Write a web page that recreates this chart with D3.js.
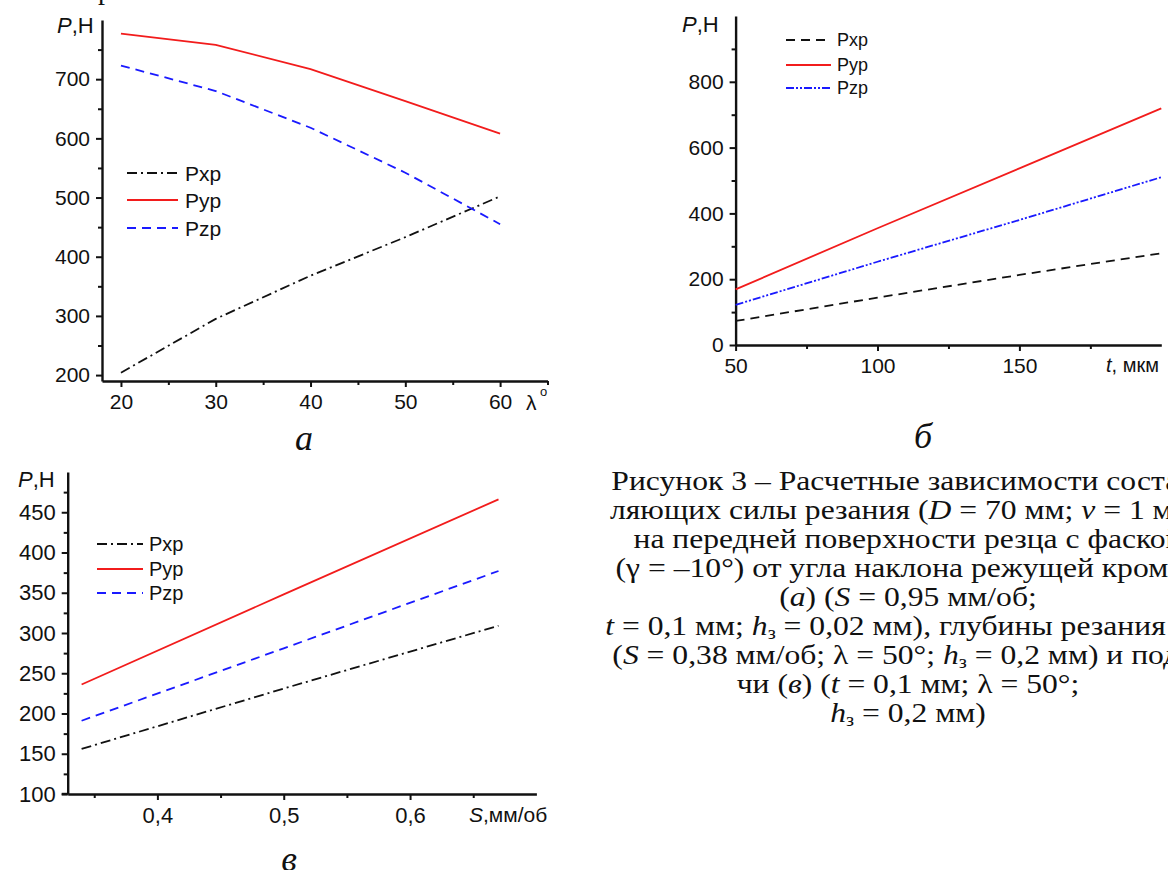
<!DOCTYPE html>
<html>
<head>
<meta charset="utf-8">
<script src="https://cdn.jsdelivr.net/npm/d3@7"></script>
<style>
  body { margin: 0; background: #fff; }
  svg { display: block; }
  text { font-family: "Liberation Sans", Arial, sans-serif; fill: #111; }
  .serif { font-family: "Liberation Serif", "Times New Roman", serif; }
</style>
</head>
<body>
<svg width="1168" height="870"></svg>
<script>
// panel а: force vs inclination angle λ
const lambdaVals = [20, 30, 40, 50, 60]
const pxA = [204, 295, 368, 433, 502]
const pyA = [777, 758, 717, 663, 608]
const pzA = [723, 680, 618, 542, 455]
const xTicksA = [20, 30, 40, 50, 60]
const xMinorA = [25, 35, 45, 55, 65]
const yTicksA = [200, 300, 400, 500, 600, 700]
const yMinorA = [250, 350, 450, 550, 650, 750]

// panel б: force vs depth t
const depthVals = [50, 100, 150, 200]
const pxB = [73, 144, 213, 279]
const pyB = [169, 355, 537, 719]
const pzB = [122, 253, 380, 510]
const xTicksB = [50, 100, 150]
const xMinorB = [75, 125, 175]
const yTicksB = [0, 200, 400, 600, 800]
const yMinorB = [100, 300, 500, 700, 900]

// panel в: force vs feed S
const feedVals = [0.34, 0.5, 0.67]
const pxC = [156, 231, 309]
const pyC = [236, 348, 466]
const pzC = [191, 281, 377]
const xTicksC = [0.4, 0.5, 0.6]
const xMinorC = [0.35, 0.45, 0.55, 0.65]
const yTicksC = [100, 150, 200, 250, 300, 350, 400, 450]
const yMinorC = [125, 175, 225, 275, 325, 375, 425, 475]

const seriesNames = ['Pxp', 'Pyp', 'Pzp']

const svg = d3.select('svg')

function panel(o) {
  const g = svg.append('g')
  const x = d3.scaleLinear().domain(o.xDomain).range(o.xRange)
  const y = d3.scaleLinear().domain(o.yDomain).range(o.yRange)
  const x0 = o.xRange[0], yb = o.yRange[0]

  // minor ticks
  g.append('g').attr('transform', `translate(0,${yb})`)
    .call(d3.axisBottom(x).tickValues(o.xMinor).tickSize(4).tickFormat(''))
    .call(a => a.select('.domain').remove())
  g.append('g').attr('transform', `translate(${x0},0)`)
    .call(d3.axisLeft(y).tickValues(o.yMinor).tickSize(4).tickFormat(''))
    .call(a => a.select('.domain').remove())

  // major axes
  const xa = g.append('g').attr('transform', `translate(0,${yb})`)
    .call(d3.axisBottom(x).tickValues(o.xTicks).tickSize(6).tickSizeOuter(0).tickPadding(7).tickFormat(o.xFmt))
  const ya = g.append('g').attr('transform', `translate(${x0},0)`)
    .call(d3.axisLeft(y).tickValues(o.yTicks).tickSize(6).tickSizeOuter(0).tickPadding(6))
  ;[xa, ya].forEach(a => {
    a.selectAll('text').style('font-size', o.tickFont + 'px').attr('fill', '#111')
    a.attr('font-family', null)
  })
  g.selectAll('.domain').attr('stroke', '#111').attr('stroke-width', 2.4)
  g.selectAll('.tick line').attr('stroke', '#111').attr('stroke-width', 2)
  if (o.xExtend) {
    g.append('line').attr('x1', x0 - o.xExtend).attr('x2', x0)
      .attr('y1', yb).attr('y2', yb).attr('stroke', '#111').attr('stroke-width', 2.4)
  }

  // series
  const line = d3.line().x(d => x(d[0])).y(d => y(d[1]))
  o.series.forEach(s => {
    g.append('path')
      .datum(o.xVals.map((v, i) => [v, s.values[i]]))
      .attr('d', line)
      .attr('fill', 'none')
      .attr('stroke', s.color)
      .attr('stroke-width', 1.8)
      .attr('stroke-dasharray', s.dash)
  })

  // legend
  const lg = g.append('g')
  o.series.forEach((s, i) => {
    const ly = o.legend.ys[i]
    lg.append('line')
      .attr('x1', o.legend.x).attr('x2', o.legend.x + o.legend.len)
      .attr('y1', ly).attr('y2', ly)
      .attr('stroke', s.color).attr('stroke-width', 1.8)
      .attr('stroke-dasharray', s.dash)
    lg.append('text')
      .attr('x', o.legend.tx).attr('y', ly)
      .attr('dy', '0.36em')
      .style('font-size', o.legend.font + 'px')
      .text(seriesNames[i])
  })

  // y label P,H
  const yl = g.append('text').attr('x', o.yLabel[0]).attr('y', o.yLabel[1])
    .style('font-size', o.labelFont + 'px')
  yl.append('tspan').attr('font-style', 'italic').text('P')
  yl.append('tspan').text(',H')

  return { g, x, y }
}

const dashDot = '10,4,2,4'
const dashed = '9,6'

const a = panel({
  xDomain: [18, 65], xRange: [102, 547.5],
  yDomain: [190, 800], yRange: [381, 20],
  xTicks: xTicksA, xMinor: xMinorA, yTicks: yTicksA, yMinor: yMinorA,
  xFmt: d3.format('d'), tickFont: 21, labelFont: 22,
  xVals: lambdaVals,
  series: [
    { values: pxA, color: '#111', dash: dashDot },
    { values: pyA, color: '#f21c1c', dash: null },
    { values: pzA, color: '#1a1aff', dash: dashed }
  ],
  legend: { x: 127, len: 51, tx: 185, ys: [173, 200, 228], font: 21 },
  yLabel: [57, 33]
})
a.g.append('text').attr('x', 526).attr('y', 410).style('font-size', '21px').text('λ')
a.g.append('text').attr('x', 540).attr('y', 396).style('font-size', '13px').text('o')

const b = panel({
  xDomain: [50, 200], xRange: [735.6, 1161.3],
  yDomain: [0, 1000], yRange: [345, 16],
  xTicks: xTicksB, xMinor: xMinorB, yTicks: yTicksB, yMinor: yMinorB,
  xFmt: d3.format('d'), tickFont: 21, labelFont: 22,
  xVals: depthVals,
  series: [
    { values: pxB, color: '#111', dash: dashed },
    { values: pyB, color: '#f21c1c', dash: null },
    { values: pzB, color: '#1a1aff', dash: '8,2,2,2,2,2' }
  ],
  legend: { x: 786, len: 45, tx: 837, ys: [40, 65, 88], font: 18 },
  yLabel: [682, 32]
})
const tl = b.g.append('text').attr('x', 1106).attr('y', 372).style('font-size', '20px')
tl.append('tspan').attr('font-style', 'italic').text('t')
tl.append('tspan').text(', мкм')

const c = panel({
  xDomain: [0.329, 0.70], xRange: [67.7, 536.4],
  yDomain: [100, 500], yRange: [794, 472],
  xTicks: xTicksC, xMinor: xMinorC, yTicks: yTicksC, yMinor: yMinorC,
  xFmt: d => d3.format('.1f')(d).replace('.', ','), tickFont: 22, labelFont: 22,
  xVals: feedVals, xExtend: 6,
  series: [
    { values: pxC, color: '#111', dash: dashDot },
    { values: pyC, color: '#f21c1c', dash: null },
    { values: pzC, color: '#1a1aff', dash: dashed }
  ],
  legend: { x: 97, len: 46, tx: 149, ys: [544, 569, 593], font: 20 },
  yLabel: [18, 487]
})
const sl = c.g.append('text').attr('x', 469).attr('y', 822).style('font-size', '21px')
sl.append('tspan').attr('font-style', 'italic').text('S')
sl.append('tspan').text(',мм/об')

// sub-figure letters
const letters = [['а', 304, 450], ['б', 923, 448], ['в', 289, 871]]
svg.selectAll('.letter').data(letters).enter().append('text')
  .attr('class', 'letter serif')
  .attr('x', d => d[1]).attr('y', d => d[2])
  .attr('text-anchor', 'middle')
  .style('font-size', '36px').style('font-style', 'italic')
  .text(d => d[0])

// cut-off text fragment at the very top
svg.append('text').attr('class', 'serif').attr('x', 98).attr('y', -1)
  .style('font-size', '28px').text('р')

// caption (segments: text, italic, subscript), centred and slightly wide
const captionLines = [
  [['Рисунок 3 – Расчетные зависимости состав-']],
  [['ляющих силы резания ('], ['D', 1], [' = 70 мм; '], ['v', 1], [' = 1  м/с)']],
  [['на передней поверхности резца с фаской']],
  [['(γ = –10°) от угла наклона режущей кромки']],
  [['('], ['а', 1], [') ('], ['S', 1], [' = 0,95 мм/об;']],
  [['t', 1], [' = 0,1 мм; '], ['h', 1], ['з', 0, 1], [' = 0,02 мм), глубины резания (б)']],
  [['('], ['S', 1], [' = 0,38 мм/об; λ = 50°; '], ['h', 1], ['з', 0, 1], [' = 0,2 мм) и пода-']],
  [['чи ('], ['в', 1], [') ('], ['t', 1], [' = 0,1 мм; λ = 50°;']],
  [['h', 1], ['з', 0, 1], [' = 0,2 мм)']]
]
const cap = svg.append('g').attr('transform', 'translate(908,0) scale(1.13,1)')
captionLines.forEach((ln, i) => {
  const t = cap.append('text').attr('class', 'serif')
    .attr('x', 0).attr('y', 490 + i * 29)
    .attr('text-anchor', 'middle')
    .style('font-size', '28px')
  let sub = false
  ln.forEach(seg => {
    const ts = t.append('tspan').text(seg[0])
    if (seg[1]) ts.attr('font-style', 'italic')
    if (seg[2]) { ts.style('font-size', '18px').attr('dy', 4); sub = true }
    else if (sub) { ts.attr('dy', -4); sub = false }
  })
})
</script>
</body>
</html>
